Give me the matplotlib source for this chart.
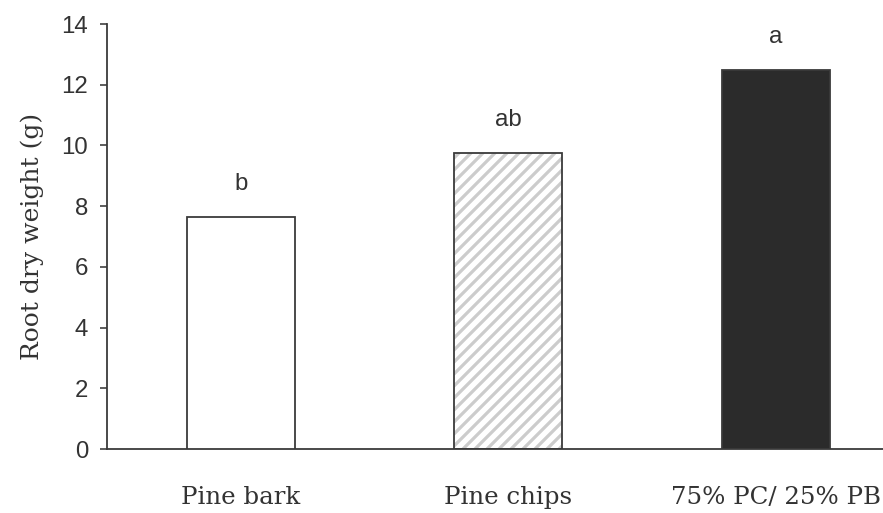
import matplotlib
matplotlib.use("Agg")
import matplotlib.pyplot as plt
from matplotlib import font_manager

categories = ["Pine bark", "Pine chips", "75% PC/ 25% PB"]
values = [7.65, 9.74, 12.48]
letters = ["b", "ab", "a"]
yticks = [0, 2, 4, 6, 8, 10, 12, 14]

names = {f.name for f in font_manager.fontManager.ttflist}
sans = [n for n in ["Liberation Sans Narrow", "DejaVu Sans Condensed", "Liberation Sans"] if n in names][0]
serif = "DejaVu Serif"
txt = "#333333"

DPI = 72
W, H = 883, 513
plt.rcParams["hatch.linewidth"] = 3.2
fig = plt.figure(figsize=(W / DPI, H / DPI), dpi=DPI)
ax = fig.add_axes([107 / W, (H - 449) / H, 802.5 / W, 425 / H])

x = list(range(len(categories)))
edge = "#3a3a3a"
fills = ["white", "white", "#2b2b2b"]
width = 0.405

# hatch layer for the middle bar
ax.bar([x[1]], [values[1]], width=width, color="white", edgecolor="#cccccc",
       hatch="//", linewidth=0, zorder=2)
for i in x:
    fc = "none" if i == 1 else fills[i]
    ax.bar([x[i]], [values[i]], width=width, facecolor=fc, edgecolor=edge,
           linewidth=1.8, zorder=3)

for i in x:
    ax.annotate(letters[i], (x[i], values[i]), xytext=(0, 22), textcoords="offset points",
                ha="center", va="bottom", fontsize=24, family=sans, color=txt)

ax.set_xlim(-0.5, 2.5)
ax.set_ylim(0, 14)
ax.set_yticks(yticks)
ax.set_yticklabels([str(t) for t in yticks], family=sans, fontsize=24, color=txt)
ax.set_xticks(x)
ax.set_xticklabels(categories, family=serif, fontsize=24.5, color=txt)
ax.tick_params(axis="x", length=0, pad=37)
ax.tick_params(axis="y", length=7, width=1.6, color=edge, pad=12, direction="out")
for s in ["top", "right"]:
    ax.spines[s].set_visible(False)
for s in ["left", "bottom"]:
    ax.spines[s].set_color(edge)
    ax.spines[s].set_linewidth(1.8)
ax.set_ylabel("Root dry weight (g)", family=serif, fontsize=25, color=txt, labelpad=17)

fig.savefig("out.png", dpi=DPI)
